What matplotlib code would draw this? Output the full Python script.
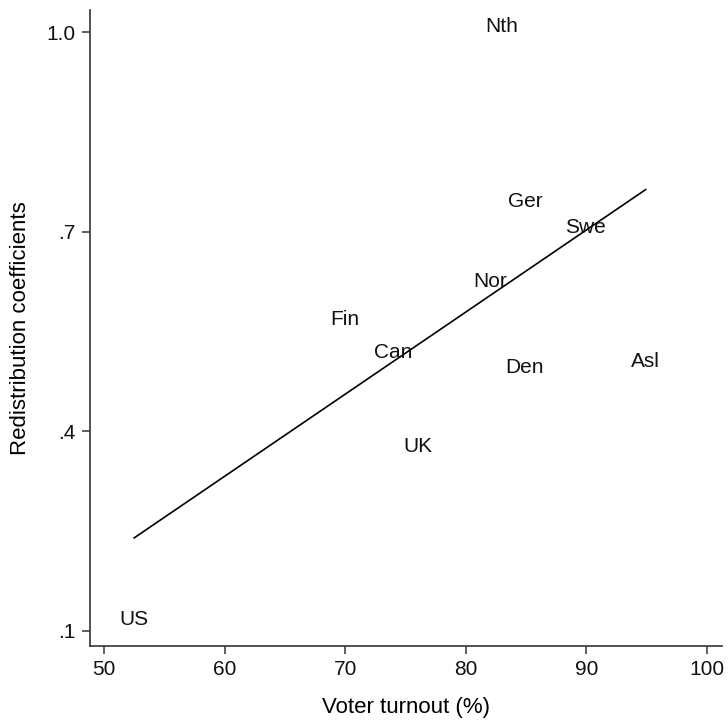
import matplotlib
matplotlib.use("Agg")
import matplotlib.pyplot as plt
import numpy as np

# values
countries = ["Nth", "Ger", "Swe", "Nor", "Fin", "Can", "Den", "Asl", "UK", "US"]
turnout = [83.0, 84.9, 89.9, 82.0, 70.0, 74.0, 84.9, 94.9, 76.0, 52.5]
redistribution = [1.011, 0.749, 0.709, 0.628, 0.571, 0.521, 0.499, 0.508, 0.380, 0.120]

x_ticks = [50, 60, 70, 80, 90, 100]
y_ticks = [0.1, 0.4, 0.7, 1.0]
y_tick_labels = [".1", ".4", ".7", "1.0"]

plt.rcParams["font.family"] = ["Liberation Sans", "DejaVu Sans"]
plt.rcParams["font.size"] = 15

fig = plt.figure(figsize=(7.28, 7.23), dpi=100)
ax = fig.add_axes([0.123, 0.107, 0.869, 0.879])

x = np.asarray(turnout)
y = np.asarray(redistribution)
for name, xi, yi in zip(countries, x, y):
    ax.text(xi, yi, name, ha="center", va="center_baseline", color="#111111")

# linear fit over the observed range
slope, intercept = np.polyfit(x, y, 1)
xs = np.array([x.min(), x.max()])
ax.plot(xs, intercept + slope * xs, color="black", lw=1.2)

ax.set_xlim(48.8, 101.25)
ax.set_ylim(0.078, 1.033)
ax.set_xticks(x_ticks)
ax.set_yticks(y_ticks)
ax.set_yticklabels(y_tick_labels)
ax.set_xlabel("Voter turnout (%)", fontsize=16, labelpad=13)
ax.set_ylabel("Redistribution coefficients", fontsize=16, labelpad=11)

for side in ["top", "right"]:
    ax.spines[side].set_visible(False)
for side in ["left", "bottom"]:
    ax.spines[side].set_color("#333333")
    ax.spines[side].set_linewidth(1.2)
ax.tick_params(length=6, width=1.2, color="#444444", pad=4, labelcolor="#111111")

fig.savefig("out.png", dpi=100)
